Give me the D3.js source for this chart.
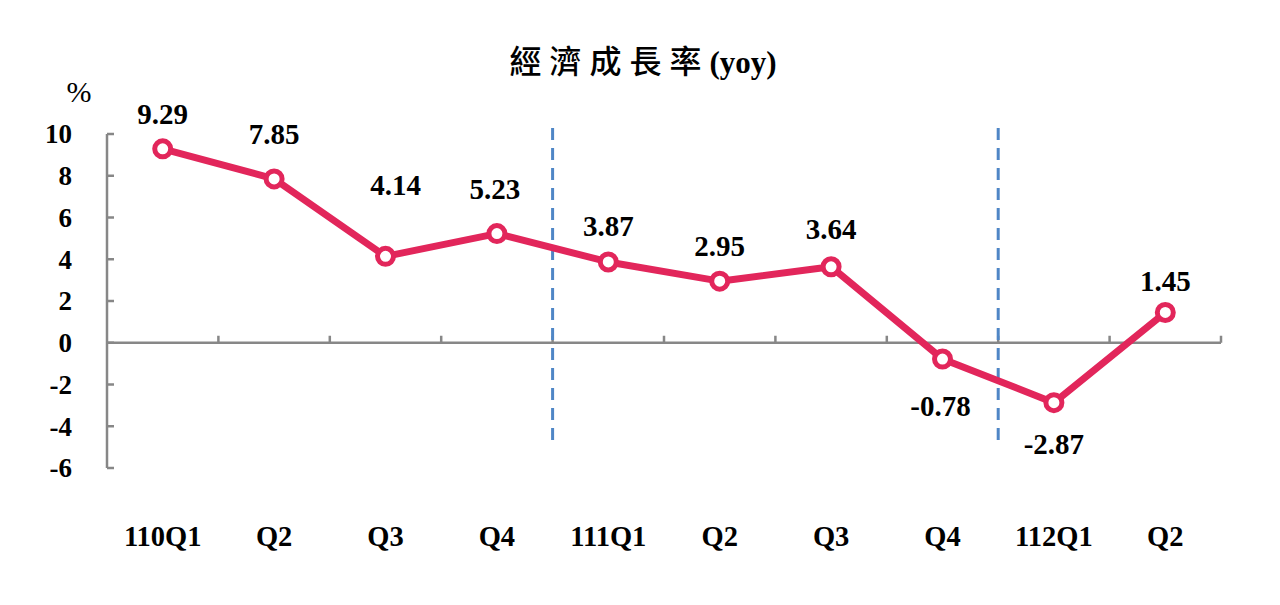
<!DOCTYPE html>
<html lang="zh-Hant">

<head>
  <meta charset="UTF-8">
  <title>經濟成長率(yoy)</title>
  <script src="https://cdn.jsdelivr.net/npm/d3@7"></script>
  <style>
    body { margin: 0; background: #fff; }
    text { font-family: "Liberation Serif", "Times New Roman", serif; font-weight: bold; fill: #000; }
  </style>
</head>

<body>
  <svg width="1280" height="605"></svg>
  <script>
    // data
    var quarters = ['110Q1', 'Q2', 'Q3', 'Q4', '111Q1', 'Q2', 'Q3', 'Q4', '112Q1', 'Q2']
    var growth = [9.29, 7.85, 4.14, 5.23, 3.87, 2.95, 3.64, -0.78, -2.87, 1.45]
    var yTicks = [-6, -4, -2, 0, 2, 4, 6, 8, 10]
    var yearBreaks = [4, 8] // index where a new year starts

    // label nudges (offset from point, px) to follow the original placement
    var labelDy = [-35, -45, -71, -45, -36, -35, -38, 47, 41, -32]
    var labelDx = [0, 0, 10, -2, 0, 0, 0, -2, 0, 0]

    var svg = d3.select('svg')
    var lineColor = '#e2265b'
    var axisColor = '#878787'

    var x = d3.scaleBand()
      .domain(d3.range(quarters.length))
      .range([107, 1221])
    var y = d3.scaleLinear()
      .domain([-6, 10])
      .range([468, 134])

    // title
    var title = svg.append('text')
      .attr('x', 643)
      .attr('y', 73)
      .attr('text-anchor', 'middle')
    title.append('tspan')
      .style('font-family', '"Noto Sans CJK TC", sans-serif')
      .style('font-weight', 500)
      .style('font-size', '32px')
      .style('letter-spacing', '8px')
      .text('經濟成長率')
    title.append('tspan')
      .style('font-size', '31px')
      .text('(yoy)')

    // % unit
    svg.append('text')
      .attr('x', 79)
      .attr('y', 102)
      .attr('text-anchor', 'middle')
      .style('font-weight', 'normal')
      .style('font-size', '30px')
      .text('%')

    // y axis
    var yAxis = svg.append('g')
    yAxis.append('line')
      .attr('x1', 107).attr('x2', 107)
      .attr('y1', y(10)).attr('y2', y(-6))
      .attr('stroke', axisColor).attr('stroke-width', 2.5)
    yAxis.selectAll('.ytick')
      .data(yTicks)
      .enter()
      .append('line')
      .attr('x1', 107).attr('x2', 114)
      .attr('y1', d => y(d)).attr('y2', d => y(d))
      .attr('stroke', axisColor).attr('stroke-width', 2.5)
    yAxis.selectAll('.ylab')
      .data(yTicks)
      .enter()
      .append('text')
      .attr('x', 72)
      .attr('y', d => y(d))
      .attr('dy', '0.35em')
      .attr('text-anchor', 'end')
      .style('font-size', '27px')
      .text(d => d)

    // x axis on zero line
    var xAxis = svg.append('g')
    xAxis.append('line')
      .attr('x1', 107).attr('x2', 1221)
      .attr('y1', y(0)).attr('y2', y(0))
      .attr('stroke', axisColor).attr('stroke-width', 2.5)
    xAxis.selectAll('.xtick')
      .data(d3.range(1, quarters.length + 1))
      .enter()
      .append('line')
      .attr('x1', d => 107 + d * x.step()).attr('x2', d => 107 + d * x.step())
      .attr('y1', y(0)).attr('y2', y(0) - 7)
      .attr('stroke', axisColor).attr('stroke-width', 2.5)
    xAxis.selectAll('.xlab')
      .data(quarters)
      .enter()
      .append('text')
      .attr('x', (d, i) => x(i) + x.bandwidth() / 2)
      .attr('y', 546)
      .attr('text-anchor', 'middle')
      .style('font-size', '28.5px')
      .text(d => d)

    // year separators
    svg.selectAll('.sep')
      .data(yearBreaks)
      .enter()
      .append('line')
      .attr('x1', d => x(d)).attr('x2', d => x(d))
      .attr('y1', 128).attr('y2', 446)
      .attr('stroke', '#4f86c6')
      .attr('stroke-width', 3)
      .attr('stroke-dasharray', '12 8')

    // line
    var line = d3.line()
      .x((d, i) => x(i) + x.bandwidth() / 2)
      .y(d => y(d))
    svg.append('path')
      .datum(growth)
      .attr('d', line)
      .attr('fill', 'none')
      .attr('stroke', lineColor)
      .attr('stroke-width', 7)
      .attr('stroke-linejoin', 'round')

    svg.selectAll('.pt')
      .data(growth)
      .enter()
      .append('circle')
      .attr('cx', (d, i) => x(i) + x.bandwidth() / 2)
      .attr('cy', d => y(d))
      .attr('r', 8)
      .attr('fill', '#fff')
      .attr('stroke', lineColor)
      .attr('stroke-width', 5)

    svg.selectAll('.lab')
      .data(growth)
      .enter()
      .append('text')
      .attr('x', (d, i) => x(i) + x.bandwidth() / 2 + labelDx[i])
      .attr('y', (d, i) => y(d) + labelDy[i])
      .attr('dy', '0.35em')
      .attr('text-anchor', 'middle')
      .style('font-size', '29px')
      .text(d => d.toFixed(2))
  </script>
</body>

</html>
